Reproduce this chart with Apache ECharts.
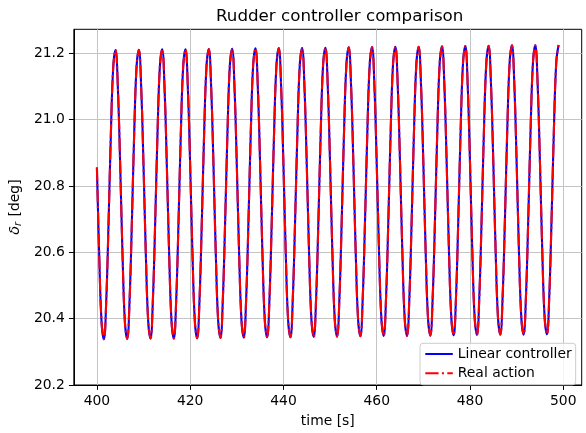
<!DOCTYPE html>
<html>
<head>
<meta charset="utf-8">
<script src="https://cdn.jsdelivr.net/npm/echarts@6/dist/echarts.min.js"></script>
<style>
  html, body { margin: 0; padding: 0; background: #fff; }
  #chart { width: 586px; height: 433px; }
</style>
</head>
<body>
<div id="chart"></div>
<script>
// Rudder angle samples, every 0.5 s from t = 400 s to t = 499 s
const timeStart = 400;
const timeStep = 0.5;

const linearController = [
  20.856, 20.587, 20.389, 20.338, 20.454, 20.692, 20.961, 21.159, 21.210, 21.094,
  20.857, 20.588, 20.390, 20.339, 20.455, 20.693, 20.962, 21.160, 21.211, 21.095,
  20.858, 20.589, 20.391, 20.340, 20.456, 20.694, 20.963, 21.161, 21.212, 21.096,
  20.858, 20.589, 20.391, 20.340, 20.456, 20.694, 20.963, 21.161, 21.212, 21.096,
  20.859, 20.590, 20.392, 20.341, 20.457, 20.695, 20.964, 21.162, 21.213, 21.097,
  20.860, 20.591, 20.393, 20.342, 20.458, 20.696, 20.965, 21.163, 21.214, 21.098,
  20.861, 20.592, 20.394, 20.343, 20.459, 20.697, 20.966, 21.164, 21.215, 21.099,
  20.862, 20.593, 20.395, 20.344, 20.460, 20.698, 20.967, 21.165, 21.216, 21.100,
  20.862, 20.593, 20.395, 20.344, 20.460, 20.698, 20.967, 21.165, 21.216, 21.100,
  20.863, 20.594, 20.396, 20.345, 20.461, 20.699, 20.968, 21.166, 21.217, 21.101,
  20.864, 20.595, 20.397, 20.346, 20.462, 20.700, 20.969, 21.167, 21.218, 21.102,
  20.865, 20.596, 20.398, 20.347, 20.463, 20.701, 20.970, 21.168, 21.219, 21.103,
  20.866, 20.597, 20.399, 20.348, 20.464, 20.702, 20.971, 21.169, 21.220, 21.104,
  20.866, 20.597, 20.399, 20.348, 20.464, 20.702, 20.971, 21.169, 21.220, 21.104,
  20.867, 20.598, 20.400, 20.349, 20.465, 20.703, 20.972, 21.170, 21.221, 21.105,
  20.868, 20.599, 20.401, 20.350, 20.466, 20.704, 20.973, 21.171, 21.222, 21.106,
  20.869, 20.600, 20.402, 20.351, 20.467, 20.705, 20.974, 21.172, 21.223, 21.107,
  20.870, 20.601, 20.403, 20.352, 20.468, 20.706, 20.975, 21.173, 21.224, 21.108,
  20.870, 20.601, 20.403, 20.352, 20.468, 20.706, 20.975, 21.173, 21.224, 21.108,
  20.871, 20.602, 20.404, 20.353, 20.469, 20.707, 20.976, 21.174, 21.225
];

const realAction = [
  20.856, 20.587, 20.389, 20.338, 20.454, 20.692, 20.961, 21.159, 21.210, 21.094,
  20.857, 20.588, 20.390, 20.339, 20.455, 20.693, 20.962, 21.160, 21.211, 21.095,
  20.858, 20.589, 20.391, 20.340, 20.456, 20.694, 20.963, 21.161, 21.212, 21.096,
  20.858, 20.589, 20.391, 20.340, 20.456, 20.694, 20.963, 21.161, 21.212, 21.096,
  20.859, 20.590, 20.392, 20.341, 20.457, 20.695, 20.964, 21.162, 21.213, 21.097,
  20.860, 20.591, 20.393, 20.342, 20.458, 20.696, 20.965, 21.163, 21.214, 21.098,
  20.861, 20.592, 20.394, 20.343, 20.459, 20.697, 20.966, 21.164, 21.215, 21.099,
  20.862, 20.593, 20.395, 20.344, 20.460, 20.698, 20.967, 21.165, 21.216, 21.100,
  20.862, 20.593, 20.395, 20.344, 20.460, 20.698, 20.967, 21.165, 21.216, 21.100,
  20.863, 20.594, 20.396, 20.345, 20.461, 20.699, 20.968, 21.166, 21.217, 21.101,
  20.864, 20.595, 20.397, 20.346, 20.462, 20.700, 20.969, 21.167, 21.218, 21.102,
  20.865, 20.596, 20.398, 20.347, 20.463, 20.701, 20.970, 21.168, 21.219, 21.103,
  20.866, 20.597, 20.399, 20.348, 20.464, 20.702, 20.971, 21.169, 21.220, 21.104,
  20.866, 20.597, 20.399, 20.348, 20.464, 20.702, 20.971, 21.169, 21.220, 21.104,
  20.867, 20.598, 20.400, 20.349, 20.465, 20.703, 20.972, 21.170, 21.221, 21.105,
  20.868, 20.599, 20.401, 20.350, 20.466, 20.704, 20.973, 21.171, 21.222, 21.106,
  20.869, 20.600, 20.402, 20.351, 20.467, 20.705, 20.974, 21.172, 21.223, 21.107,
  20.870, 20.601, 20.403, 20.352, 20.468, 20.706, 20.975, 21.173, 21.224, 21.108,
  20.870, 20.601, 20.403, 20.352, 20.468, 20.706, 20.975, 21.173, 21.224, 21.108,
  20.871, 20.602, 20.404, 20.353, 20.469, 20.707, 20.976, 21.174, 21.225
];

const xTicks = [400, 420, 440, 460, 480, 500];
const yTicks = [20.2, 20.4, 20.6, 20.8, 21.0, 21.2];

const seriesNames = ['Linear controller', 'Real action'];

const toPairs = (values) => values.map((v, i) => [timeStart + i * timeStep, v]);

const FONT = 'DejaVu Sans';
const chart = echarts.init(document.getElementById('chart'), null, { renderer: 'canvas' });

chart.setOption({
  animation: false,
  backgroundColor: '#ffffff',
  textStyle: { fontFamily: FONT },
  title: {
    text: 'Rudder controller comparison',
    left: 211,
    top: 3,
    textStyle: { fontFamily: FONT, fontSize: 16.7, fontWeight: 'normal', color: '#000' }
  },
  grid: {
    left: 72.7, right: 4.3, top: 29.3, bottom: 43.7,
    show: true, borderColor: '#000', borderWidth: 1, backgroundColor: 'transparent'
  },
  legend: {
    orient: 'vertical',
    left: 420, top: 343.3,
    padding: [3.7, 4, 4.5, 4.3],
    itemWidth: 27.5, itemHeight: 14, itemGap: 5.3,
    backgroundColor: 'rgba(255,255,255,0.8)',
    borderColor: '#cccccc', borderWidth: 1, borderRadius: 3,
    itemStyle: { color: 'transparent', borderColor: 'transparent', borderWidth: 0 },
    textStyle: { fontFamily: FONT, fontSize: 13.9, color: '#000', padding: [0, 0, 0, 0] },
    data: seriesNames
  },
  xAxis: {
    type: 'value',
    min: 395.05, max: 503.95,
    name: 'time [s]',
    nameLocation: 'middle',
    nameGap: 29,
    nameTextStyle: { fontFamily: FONT, fontSize: 13.9, color: '#000' },
    axisLine: { show: true, lineStyle: { color: '#000', width: 1 } },
    axisTick: { show: true, customValues: xTicks, length: 4.9, lineStyle: { color: '#000', width: 1 } },
    axisLabel: { customValues: xTicks, margin: 9, fontFamily: FONT, fontSize: 13.9, color: '#000' },
    splitLine: { show: true, lineStyle: { color: '#c4c4c4', width: 1 } }
  },
  yAxis: {
    type: 'value',
    min: 20.2, max: 21.2725,
    name: '{d|δ}{s|r} [deg]',
    nameLocation: 'middle',
    nameRotate: 90,
    nameGap: 38,
    nameTextStyle: {
      fontFamily: FONT, fontSize: 13.9, color: '#000',
      rich: {
        d: { fontFamily: FONT, fontSize: 14.5, fontStyle: 'italic', color: '#000' },
        s: { fontFamily: FONT, fontSize: 10, fontStyle: 'italic', color: '#000', verticalAlign: 'bottom', padding: [5, 1, 0, 0] }
      }
    },
    axisLine: { show: true, lineStyle: { color: '#000', width: 1 } },
    axisTick: { show: true, customValues: yTicks, length: 4.9, lineStyle: { color: '#000', width: 1 } },
    axisLabel: {
      customValues: yTicks, margin: 9, fontFamily: FONT, fontSize: 13.9, color: '#000',
      formatter: (v) => v.toFixed(1)
    },
    splitLine: { show: true, lineStyle: { color: '#c4c4c4', width: 1 } }
  },
  series: [
    {
      name: seriesNames[0],
      type: 'line',
      data: toPairs(linearController),
      symbol: 'none',
      smooth: 0.4,
      lineStyle: { color: '#0000ff', width: 2.1, type: 'solid' },
      itemStyle: { color: '#0000ff' },
      z: 2
    },
    {
      name: seriesNames[1],
      type: 'line',
      data: toPairs(realAction),
      symbol: 'none',
      smooth: 0.4,
      lineStyle: { color: '#ff0000', width: 2.1, type: [13.3, 3.3, 2.1, 3.3] },
      itemStyle: { color: '#ff0000' },
      z: 3
    }
  ]
});
</script>
</body>
</html>
